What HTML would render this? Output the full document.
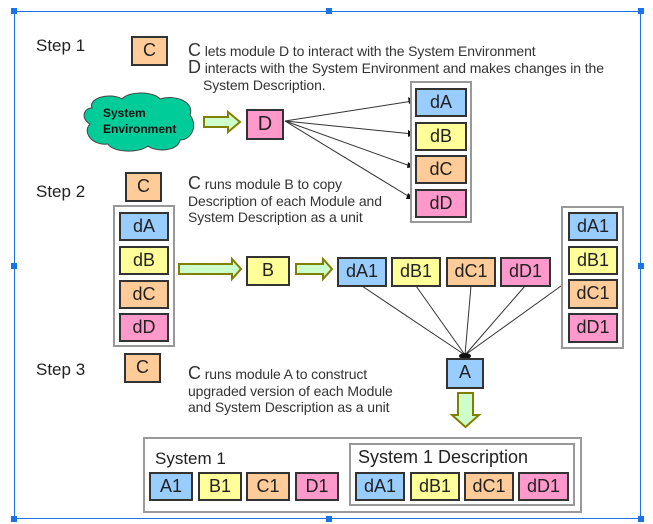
<!DOCTYPE html>
<html><head><meta charset="utf-8"><style>
body{margin:0;width:653px;height:524px;background:#fff;position:relative;overflow:hidden;font-family:"Liberation Sans",sans-serif;color:#222}
.a{position:absolute}
.b{position:absolute;box-sizing:border-box;border:2px solid #333;text-align:center;font-size:18px;line-height:25px;color:#222}
.bl{background:#99ccff}.ye{background:#ffff99}.or{background:#ffcc99}.pk{background:#ff99cc}
.ct{position:absolute;box-sizing:border-box;border:2px solid #999;background:#fff}
.t{position:absolute;font-size:14px;line-height:16.5px;color:#333;white-space:nowrap;letter-spacing:-0.1px}
.t b{font-weight:normal;font-size:18px}
.s{position:absolute;font-size:17px;color:#222}
.h{position:absolute;width:6px;height:6px;background:#1a73e8}
</style></head><body>
<div class="a" style="left:14px;top:11px;width:627px;height:508px;border:1px solid #1a73e8;box-sizing:border-box"></div>
<div class="h" style="left:11px;top:8px"></div><div class="h" style="left:326px;top:8px"></div><div class="h" style="left:638px;top:8px"></div>
<div class="h" style="left:11px;top:263px"></div><div class="h" style="left:638px;top:263px"></div>
<div class="h" style="left:11px;top:516px"></div><div class="h" style="left:326px;top:516px"></div><div class="h" style="left:638px;top:516px"></div>

<div class="s" style="left:36px;top:36px">Step 1</div>
<div class="s" style="left:36px;top:182px">Step 2</div>
<div class="s" style="left:36px;top:360px">Step 3</div>

<div class="b or" style="left:131px;top:36px;width:37px;height:30px">C</div>
<div class="b or" style="left:125px;top:172px;width:37px;height:30px">C</div>
<div class="b or" style="left:124px;top:353px;width:37px;height:30px">C</div>

<div class="t" style="left:188px;top:42px"><b>C</b> lets module D to interact with the System Environment</div>
<div class="t" style="left:188px;top:59px"><b>D</b> interacts with the System Environment and makes changes in the</div>
<div class="t" style="left:203px;top:77px">System Description.</div>
<div class="t" style="left:188px;top:175px"><b>C</b> runs module B to copy<br>Description of each Module and<br>System Description as a unit</div>
<div class="t" style="left:188px;top:365px"><b>C</b> runs module A to construct<br>upgraded version of each Module<br>and System Description as a unit</div>

<svg class="a" style="left:0;top:0" width="653" height="524">
<path d="M92,108 C88,98 110,92 122,99 C130,90 155,92 160,99 C175,94 195,102 190,115 C198,125 192,140 180,140 C178,152 155,152 148,146 C138,154 112,152 108,144 C92,146 82,132 90,124 C80,118 84,108 92,108Z" fill="#00cc99" stroke="#444" stroke-width="1"/>
<text x="103" y="117" font-size="12" font-weight="bold" font-family="Liberation Sans" fill="#111">System</text>
<text x="103" y="133" font-size="12" font-weight="bold" font-family="Liberation Sans" fill="#111">Environment</text>
<g fill="#ccffcc" stroke="#808000" stroke-width="2">
<path d="M204,117 H228 V112 L240,122 L228,132 V127 H204Z"/>
<path d="M179,264 H232 V259 L241,269 L232,279 V274 H179Z"/>
<path d="M296,264 H323 V259 L332,269 L323,279 V274 H296Z"/>
<path d="M458,393 H473 V415 H479 L465.5,427 L452,415 H458Z"/>
</g>
<g stroke="#333" stroke-width="1" fill="none">
<line x1="285" y1="121" x2="413" y2="101"/><line x1="285" y1="121" x2="413" y2="134"/>
<line x1="285" y1="121" x2="413" y2="167"/><line x1="285" y1="121" x2="413" y2="199"/>
<line x1="362" y1="286" x2="465" y2="355"/><line x1="416" y1="286" x2="465" y2="355"/>
<line x1="471" y1="286" x2="465" y2="355"/><line x1="525" y1="286" x2="465" y2="355"/>
<line x1="561" y1="286" x2="465" y2="355"/>
</g>
<g fill="#111"><path d="M415,101 l-7,-4 l1,7z"/><path d="M415,134 l-7,-4 l0,7z"/><path d="M415,167 l-7,-5 l-1,6z"/><path d="M415,199 l-7,-6 l-2,6z"/>
<ellipse cx="465" cy="356" rx="6" ry="3"/></g>
</svg>

<div class="b pk" style="left:246px;top:109px;width:38px;height:31px;font-size:20px;line-height:27px">D</div>

<div class="ct" style="left:410px;top:81px;width:62px;height:142px"></div>
<div class="b bl" style="left:415px;top:88px;width:52px;height:29px">dA</div>
<div class="b ye" style="left:415px;top:122px;width:52px;height:29px">dB</div>
<div class="b or" style="left:415px;top:155px;width:52px;height:29px">dC</div>
<div class="b pk" style="left:415px;top:189px;width:52px;height:29px">dD</div>

<div class="ct" style="left:113px;top:205px;width:62px;height:142px"></div>
<div class="b bl" style="left:119px;top:212px;width:50px;height:29px">dA</div>
<div class="b ye" style="left:119px;top:246px;width:50px;height:29px">dB</div>
<div class="b or" style="left:119px;top:280px;width:50px;height:29px">dC</div>
<div class="b pk" style="left:119px;top:313px;width:50px;height:29px">dD</div>

<div class="b ye" style="left:246px;top:256px;width:44px;height:30px">B</div>
<div class="b bl" style="left:337px;top:257px;width:50px;height:30px">dA1</div>
<div class="b ye" style="left:391px;top:257px;width:50px;height:30px">dB1</div>
<div class="b or" style="left:446px;top:257px;width:50px;height:30px">dC1</div>
<div class="b pk" style="left:500px;top:257px;width:51px;height:30px">dD1</div>

<div class="ct" style="left:561px;top:206px;width:63px;height:143px"></div>
<div class="b bl" style="left:568px;top:212px;width:50px;height:29px">dA1</div>
<div class="b ye" style="left:568px;top:246px;width:50px;height:29px">dB1</div>
<div class="b or" style="left:568px;top:279px;width:50px;height:30px">dC1</div>
<div class="b pk" style="left:568px;top:313px;width:50px;height:30px">dD1</div>

<div class="b bl" style="left:446px;top:358px;width:38px;height:31px">A</div>

<div class="ct" style="left:143px;top:437px;width:439px;height:76px"></div>
<div class="s" style="left:155px;top:449px;font-size:17px">System 1</div>
<div class="ct" style="left:349px;top:443px;width:226px;height:63px"></div>
<div class="s" style="left:358px;top:447px;font-size:18px">System 1 Description</div>
<div class="b bl" style="left:149px;top:472px;width:44px;height:29px">A1</div>
<div class="b ye" style="left:198px;top:472px;width:44px;height:29px">B1</div>
<div class="b or" style="left:246px;top:472px;width:44px;height:29px">C1</div>
<div class="b pk" style="left:295px;top:472px;width:44px;height:29px">D1</div>
<div class="b bl" style="left:355px;top:472px;width:50px;height:29px">dA1</div>
<div class="b ye" style="left:410px;top:472px;width:50px;height:29px">dB1</div>
<div class="b or" style="left:464px;top:472px;width:50px;height:29px">dC1</div>
<div class="b pk" style="left:518px;top:472px;width:51px;height:29px">dD1</div>
</body></html>
